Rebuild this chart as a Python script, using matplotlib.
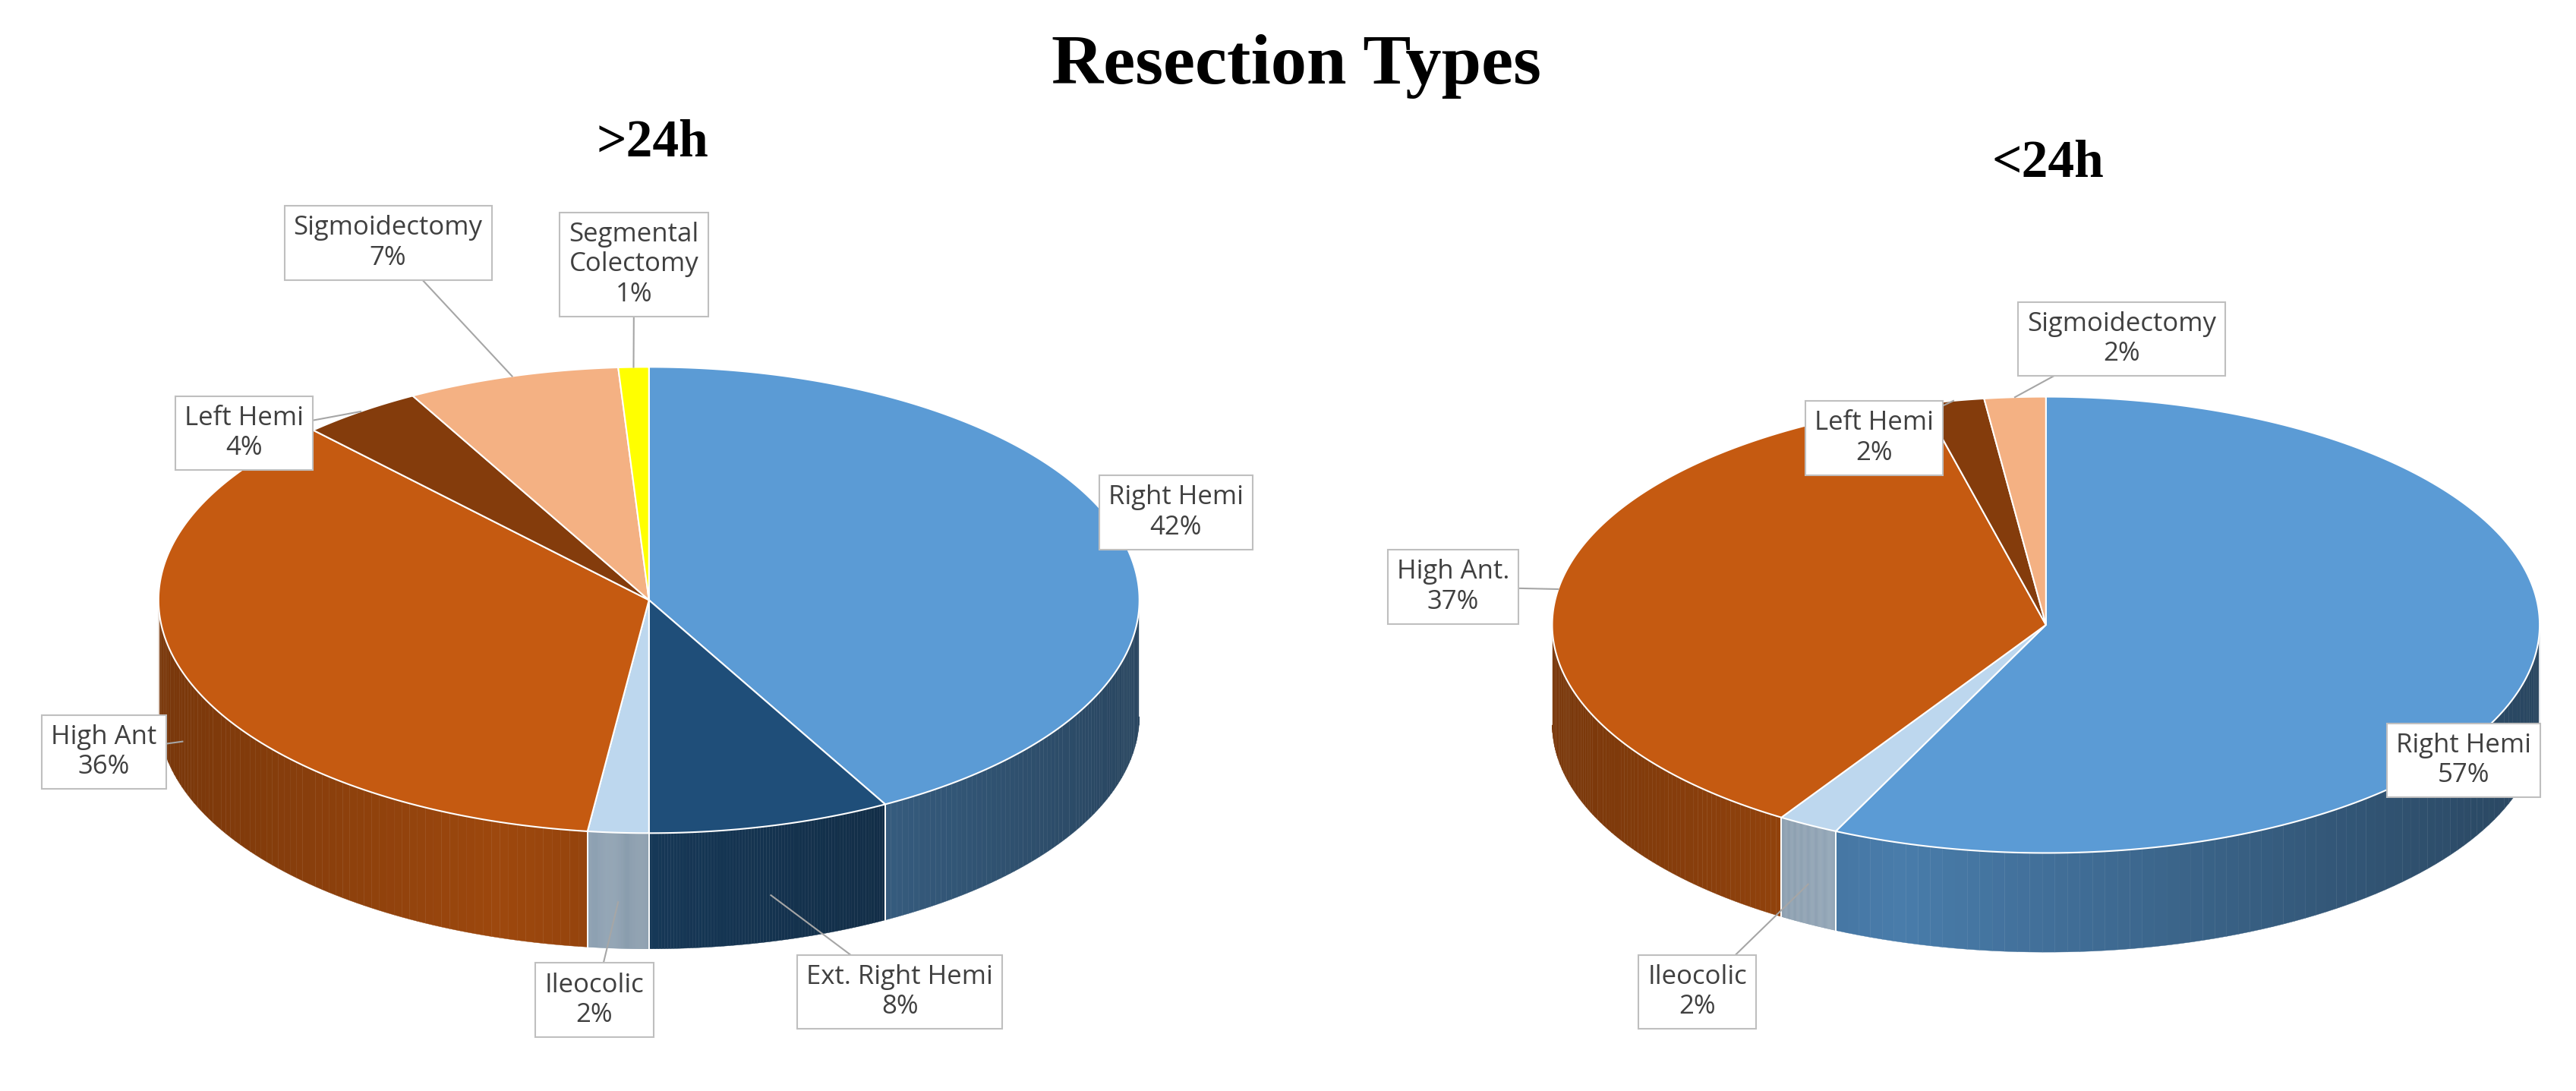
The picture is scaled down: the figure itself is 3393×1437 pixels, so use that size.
import numpy as np
import matplotlib
matplotlib.use('Agg')
import matplotlib.pyplot as plt
from matplotlib.colors import to_rgb

# =====================
# DATOS
# =====================

left_labels = ["Right Hemi", "Ext. Right Hemi", "Ileocolic", "High Ant", "Left Hemi", "Sigmoidectomy", "Segmental\nColectomy"]
left_values = [42, 8, 2, 36, 4, 7, 1]
left_colors = ["#5B9BD5", "#1F4E79", "#BDD7EE", "#C55A11", "#843C0C", "#F4B183", "#FFFF00"]

right_labels = ["Right Hemi", "Ileocolic", "High Ant.", "Left Hemi", "Sigmoidectomy"]
right_values = [57, 2, 37, 2, 2]
right_colors = ["#5B9BD5", "#BDD7EE", "#C55A11", "#843C0C", "#F4B183"]

# posiciones de etiquetas (coordenadas de la imagen, 1560x660)
left_label_pos = [(712, 310), (545, 600), (360, 605), (63, 455), (148, 262), (235, 147), (384, 160)]
right_label_pos = [(1492, 460), (1028, 600), (880, 355), (1135, 265), (1285, 205)]

# =====================
# FIGURA
# =====================

fig = plt.figure(figsize=(33.93, 14.37), dpi=100)
ax = fig.add_axes([0, 0, 1, 1])
ax.set_xlim(0, 1560)
ax.set_ylim(660, 0)
ax.axis('off')


def darker(c, f):
    r, g, b = to_rgb(c)
    return (r * f, g * f, b * f)


def pie3d(cx, cy, rx, ry, depth, values, colors, labels, label_pos):
    total = float(sum(values))
    bounds = np.concatenate([[0], np.cumsum(values)]) / total * 2 * np.pi

    def pt(a, dy=0):
        return cx + rx * np.sin(a), cy - ry * np.cos(a) + dy

    # paredes laterales (solo mitad frontal)
    for i, c in enumerate(colors):
        a0, a1 = bounds[i], bounds[i + 1]
        lo, hi = max(a0, np.pi / 2), min(a1, 3 * np.pi / 2)
        if hi <= lo:
            continue
        t = np.linspace(lo, hi, 80)
        for k in range(len(t) - 1):
            ts = np.array([t[k], t[k + 1]])
            x, y = pt(ts)
            shade = 0.45 + 0.35 * (1 - abs(np.sin(ts.mean()) + 0.3) / 1.3)
            ax.fill([x[0], x[1], x[1], x[0]], [y[0], y[1], y[1] + depth, y[0] + depth],
                    color=darker(c, shade), lw=0.3, ec=darker(c, shade), zorder=2)
        x, y = pt(np.array([lo, hi]))
        for xx, yy in zip(x, y):
            ax.plot([xx, xx], [yy, yy + depth], color="white", lw=1.2, zorder=3)

    # caras superiores
    for i, c in enumerate(colors):
        t = np.linspace(bounds[i], bounds[i + 1], 200)
        x, y = pt(t)
        ax.fill(np.concatenate([[cx], x]), np.concatenate([[cy], y]),
                color=c, ec="white", lw=1.5, zorder=4)

    # etiquetas
    for i, (lab, (lx, ly)) in enumerate(zip(labels, label_pos)):
        mid = (bounds[i] + bounds[i + 1]) / 2
        px, py = pt(mid)
        if np.cos(mid) < 0:
            py += depth * 0.6
        ax.plot([lx, px], [ly, py], color="#A6A6A6", lw=1.5, zorder=5)
        txt = f"{lab}\n{values[i]}%"
        ax.text(lx, ly, txt, ha="center", va="center", fontsize=25, color="#404040",
                family="Open Sans", linespacing=1.2, zorder=6,
                bbox=dict(boxstyle="square,pad=0.35", fc="white", ec="#BFBFBF", lw=1.5))


pie3d(393, 363, 297, 141, 70, left_values, left_colors, left_labels, left_label_pos)
pie3d(1239, 378, 299, 138, 60, right_values, right_colors, right_labels, right_label_pos)

ax.text(785, 40, "Resection Types", ha="center", va="center", fontsize=68,
        fontweight="bold", family="Liberation Serif")
ax.text(395, 87, ">24h", ha="center", va="center", fontsize=50,
        fontweight="bold", family="Liberation Serif")
ax.text(1240, 99, "<24h", ha="center", va="center", fontsize=50,
        fontweight="bold", family="Liberation Serif")

fig.savefig("out.png", dpi=100)
